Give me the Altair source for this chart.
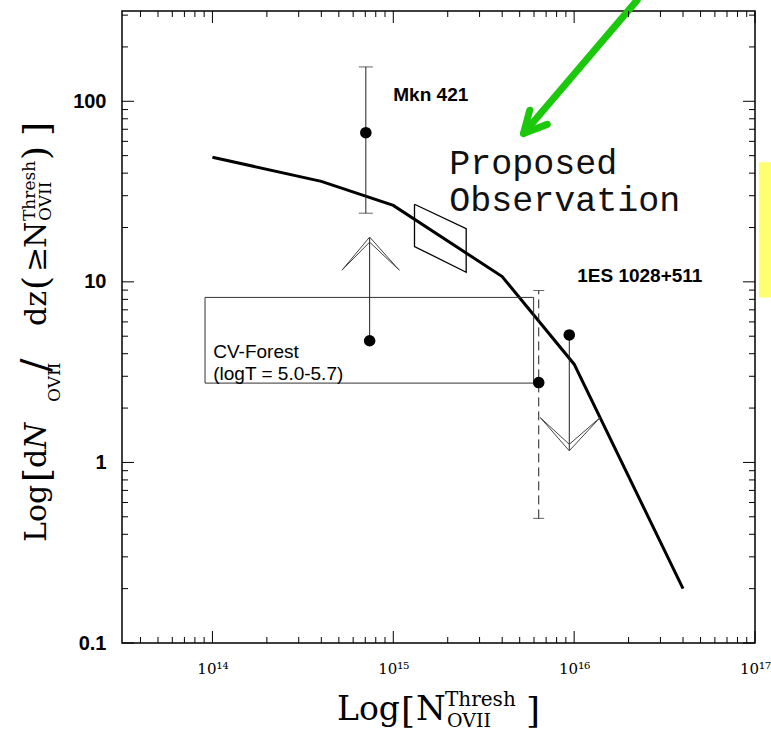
import math
import altair as alt
import pandas as pd

# ---- model prediction: cumulative OVII absorber count per unit redshift ----
model_n = [1e14, 4e14, 1e15, 4e15, 1e16, 4e16]
model_dndz = [49, 36, 26.5, 10.7, 3.5, 0.2]

# ---- Mkn 421 detection with error bar ----
mkn_n = [7.05e14]
mkn_val = [67]
mkn_lo = [24]
mkn_hi = [155]

# ---- lower limit (arrow pointing up) ----
low_n = [7.4e14]
low_val = [4.72]
low_tip = [17.7, 16.6]          # outer / inner chevron tips
low_arm_n = [5.2e14, 1.08e15]   # chevron arm ends
low_arm_val = [11.6, 11.6]

# ---- 1ES 1028+511 point with dashed error bar ----
es_n = [6.37e15]
es_val = [2.77]
es_lo = [0.49]
es_hi = [8.96]

# ---- upper limit (arrow pointing down) ----
up_n = [9.4e15]
up_val = [5.08]
up_tip = [1.16, 1.26]
up_arm_n = [6.5e15, 1.39e16]
up_arm_val = [1.77, 1.77]

# ---- CV-Forest box (logT = 5.0-5.7) ----
cv_n = [9.1e13, 5.97e15]
cv_val = [2.75, 8.2]

# ---- proposed observation (parallelogram) ----
prop_n = [1.31e15, 1.31e15, 2.53e15, 2.53e15, 1.31e15]
prop_val = [26.9, 15.7, 11.3, 19.7, 26.9]

# ---- pointer arrow ----
arrow_n = [2.23e16, 5.25e15]
arrow_val = [363, 66.3]
arrow_head_n = [5.68e15, 5.25e15, 7.1e15]
arrow_head_val = [89.2, 66.3, 74.5]

# ---- highlight strip at the right edge ----
strip_n = [1.05e17, 1.3e17]
strip_val = [8.19, 45.9]

# ---- axes ----
x_domain = [10 ** 13.5, 1e17]
y_domain = [0.1, 10 ** 2.5]
x_tick_values = [1e14, 1e15, 1e16, 1e17]
x_tick_labels = ["10¹⁴", "10¹⁵", "10¹⁶", "10¹⁷"]
y_tick_values = [0.1, 1, 10, 100]
y_tick_labels = ["0.1", "1", "10", "100"]

W, H = 633, 632
PAD_L, PAD_T = 122, 11

x_minor = [k * 10 ** d for d in range(13, 17) for k in range(2, 10)
           if x_domain[0] <= k * 10 ** d <= x_domain[1]]
y_minor = [k * 10 ** d for d in range(-1, 3) for k in range(2, 10)
           if y_domain[0] <= k * 10 ** d <= y_domain[1]]

x_label_expr = "[" + ",".join(f"'{s}'" for s in x_tick_labels) + "][round(log(datum.value)/LN10) - 14]"
y_label_expr = "[" + ",".join(f"'{s}'" for s in y_tick_labels) + "][round(log(datum.value)/LN10) + 1]"

x_axis = alt.Axis(values=x_tick_values, labelExpr=x_label_expr, ticks=False, domain=False,
                  grid=False, title=None, labelFont="DejaVu Serif", labelFontSize=15,
                  labelPadding=18, labelColor="black", labelFlush=False, labelOverlap=False)
y_axis = alt.Axis(values=y_tick_values, labelExpr=y_label_expr, ticks=False, domain=False,
                  grid=False, title=None, labelFont="Liberation Sans", labelFontWeight="bold",
                  labelFontSize=20, labelPadding=16, labelColor="black", labelFlush=False,
                  labelOverlap=False)
x_scale = alt.Scale(type="log", domain=x_domain, nice=False)
y_scale = alt.Scale(type="log", domain=y_domain, nice=False)


def X(field="n"):
    return alt.X(f"{field}:Q", scale=x_scale, axis=x_axis)


def Y(field="v"):
    return alt.Y(f"{field}:Q", scale=y_scale, axis=y_axis)


layers = []

# model curve
layers.append(
    alt.Chart(pd.DataFrame({"n": model_n, "v": model_dndz}))
    .mark_line(color="black", strokeWidth=3)
    .encode(x=X(), y=Y())
)

# CV-Forest box
layers.append(
    alt.Chart(pd.DataFrame({"n": [cv_n[0]], "n2": [cv_n[1]], "v": [cv_val[0]], "v2": [cv_val[1]]}))
    .mark_rect(fill=None, filled=False, stroke="#333333", strokeWidth=1)
    .encode(x=X(), x2="n2:Q", y=Y(), y2="v2:Q")
)

# proposed observation parallelogram
layers.append(
    alt.Chart(pd.DataFrame({"n": prop_n, "v": prop_val, "o": list(range(len(prop_n)))}))
    .mark_line(color="black", strokeWidth=1.3)
    .encode(x=X(), y=Y(), order="o:Q")
)

# Mkn 421 error bar + caps
mkn_df = pd.DataFrame({"n": mkn_n, "v": mkn_val, "lo": mkn_lo, "hi": mkn_hi})
layers.append(alt.Chart(mkn_df).mark_rule(color="#222222", strokeWidth=1)
              .encode(x=X(), y=Y("lo"), y2="hi:Q"))
layers.append(alt.Chart(pd.DataFrame({"n": mkn_n * 2, "v": mkn_lo + mkn_hi}))
              .mark_tick(orient="horizontal", size=14, thickness=1, color="#222222")
              .encode(x=X(), y=Y()))

# dashed error bar + caps
es_df = pd.DataFrame({"n": es_n, "v": es_val, "lo": es_lo, "hi": es_hi})
layers.append(alt.Chart(es_df).mark_rule(color="#222222", strokeWidth=1, strokeDash=[9, 5])
              .encode(x=X(), y=Y("lo"), y2="hi:Q"))
layers.append(alt.Chart(pd.DataFrame({"n": es_n * 2, "v": es_lo + es_hi}))
              .mark_tick(orient="horizontal", size=11, thickness=1, color="#222222")
              .encode(x=X(), y=Y()))

# limit stems
layers.append(alt.Chart(pd.DataFrame({"n": low_n, "v": low_val, "v2": [low_tip[0]]}))
              .mark_rule(color="#222222", strokeWidth=1).encode(x=X(), y=Y(), y2="v2:Q"))
layers.append(alt.Chart(pd.DataFrame({"n": up_n, "v": up_val, "v2": [up_tip[0]]}))
              .mark_rule(color="#222222", strokeWidth=1).encode(x=X(), y=Y(), y2="v2:Q"))

# chevron heads of the limits (outer and inner stroke)
chev_rows = []
for g, tip in enumerate(low_tip):
    pts = [(low_arm_n[0], low_arm_val[0]), (low_n[0], tip), (low_arm_n[1], low_arm_val[1])]
    for i, (n, v) in enumerate(pts):
        chev_rows.append({"n": n, "v": v, "g": f"low{g}", "o": i})
for g, tip in enumerate(up_tip):
    pts = [(up_arm_n[0], up_arm_val[0]), (up_n[0], tip), (up_arm_n[1], up_arm_val[1])]
    for i, (n, v) in enumerate(pts):
        chev_rows.append({"n": n, "v": v, "g": f"up{g}", "o": i})
layers.append(alt.Chart(pd.DataFrame(chev_rows))
              .mark_line(color="#444444", strokeWidth=1)
              .encode(x=X(), y=Y(), detail="g:N", order="o:Q"))

# data points
pts_df = pd.DataFrame({"n": mkn_n + low_n + es_n + up_n,
                       "v": mkn_val + low_val + es_val + up_val})
layers.append(alt.Chart(pts_df).mark_circle(size=135, color="black", opacity=1)
              .encode(x=X(), y=Y()))

# green pointer arrow
arrow_rows = [{"n": n, "v": v, "g": "shaft", "o": i} for i, (n, v) in enumerate(zip(arrow_n, arrow_val))]
arrow_rows += [{"n": n, "v": v, "g": "head", "o": i}
               for i, (n, v) in enumerate(zip(arrow_head_n, arrow_head_val))]
layers.append(alt.Chart(pd.DataFrame(arrow_rows))
              .mark_line(color="#1cc80c", strokeWidth=7, strokeCap="round", strokeJoin="round", clip=False)
              .encode(x=X(), y=Y(), detail="g:N", order="o:Q"))

# yellow strip
layers.append(alt.Chart(pd.DataFrame({"n": [strip_n[0]], "n2": [strip_n[1]],
                                      "v": [strip_val[0]], "v2": [strip_val[1]]}))
              .mark_rect(color="#ffff70", clip=False)
              .encode(x=X(), x2="n2:Q", y=Y(), y2="v2:Q"))

# annotations in data space
label_df = pd.DataFrame({
    "n": [1e15, 1.04e16],
    "v": [100, 10],
    "t": ["Mkn 421", "1ES 1028+511"],
})
layers.append(alt.Chart(label_df)
              .mark_text(font="Liberation Sans", fontWeight="bold", fontSize=19, align="left",
                         baseline="alphabetic", color="black")
              .encode(x=X(), y=Y(), text="t:N"))
layers.append(alt.Chart(pd.DataFrame({"n": [1.01e14, 1.01e14], "v": [3.77, 2.87],
                                      "t": ["CV-Forest", "(logT = 5.0-5.7)"]}))
              .mark_text(font="Liberation Sans", fontSize=19, align="left",
                         baseline="alphabetic", color="black")
              .encode(x=X(), y=Y(), text="t:N"))
layers.append(alt.Chart(pd.DataFrame({"n": [2.04e15, 2.04e15], "v": [39.4, 24.7],
                                      "t": ["Proposed", "Observation"]}))
              .mark_text(font="Liberation Mono", fontSize=35, align="left",
                         baseline="alphabetic", color="#111111")
              .encode(x=X(), y=Y(), text="t:N"))


# inward tick marks on all four sides
def tick_layer(vals, side, length):
    df = pd.DataFrame({"n": vals, "v": vals})
    m = alt.Chart(df).mark_rule(color="black", strokeWidth=1)
    if side == "bottom":
        return m.encode(x=X(), y=alt.value(H), y2=alt.value(H - length))
    if side == "top":
        return m.encode(x=X(), y=alt.value(0), y2=alt.value(length))
    if side == "left":
        return m.encode(y=Y(), x=alt.value(0), x2=alt.value(length))
    return m.encode(y=Y(), x=alt.value(W), x2=alt.value(W - length))


for side in ["bottom", "top"]:
    layers.append(tick_layer(x_tick_values, side, 12))
    layers.append(tick_layer(x_minor, side, 6))
for side in ["left", "right"]:
    layers.append(tick_layer(y_tick_values, side, 12))
    layers.append(tick_layer(y_minor, side, 6))


# axis titles built from pieces so the sub/superscripts sit where they belong
def piece(text, px, py, size, angle=0, style="normal"):
    return (alt.Chart(pd.DataFrame({"t": [text]}))
            .mark_text(font="DejaVu Serif", fontSize=size, align="left", baseline="alphabetic",
                       angle=angle, fontStyle=style, color="black")
            .encode(x=alt.value(px - PAD_L), y=alt.value(py - PAD_T), text="t:N"))


# x title: Log[N^Thresh_OVII]
layers += [
    piece("Log", 337, 720, 33),
    piece("[", 401, 723, 36),
    piece("N", 416, 720, 34),
    piece("Thresh", 445, 706, 20),
    piece("OVII", 447, 727, 19),
    piece("]", 526, 723, 36),
]
# y title: Log[dN_OVII/dz(>=N^Thresh_OVII)]
layers += [
    piece("Log", 46, 542, 30, 270),
    piece("[", 49, 482, 36, 270),
    piece("d", 46, 468, 30, 270),
    piece("N", 46, 449, 30, 270, "italic"),
    piece("OVII", 60, 402, 17, 270),
    piece("/", 49, 372, 40, 270),
    piece("dz", 46, 326, 30, 270),
    piece("(", 48, 290, 36, 270),
    piece("≥", 46, 272, 30, 270),
    piece("N", 46, 248, 30, 270),
    piece("Thresh", 35, 221, 17, 270),
    piece("OVII", 51, 221, 17, 270),
    piece(")", 48, 160, 36, 270),
    piece("]", 49, 136, 36, 270),
]

chart = (
    alt.layer(*layers)
    .properties(width=W, height=H, autosize=alt.AutoSizeParams(type="none"),
                padding={"left": PAD_L, "top": PAD_T, "right": 771 - PAD_L - W, "bottom": 731 - PAD_T - H},
                background="white")
    .configure_view(stroke="black", strokeWidth=1.5)
)

chart.save("out.html", embed_options={"renderer": "svg", "actions": False})
